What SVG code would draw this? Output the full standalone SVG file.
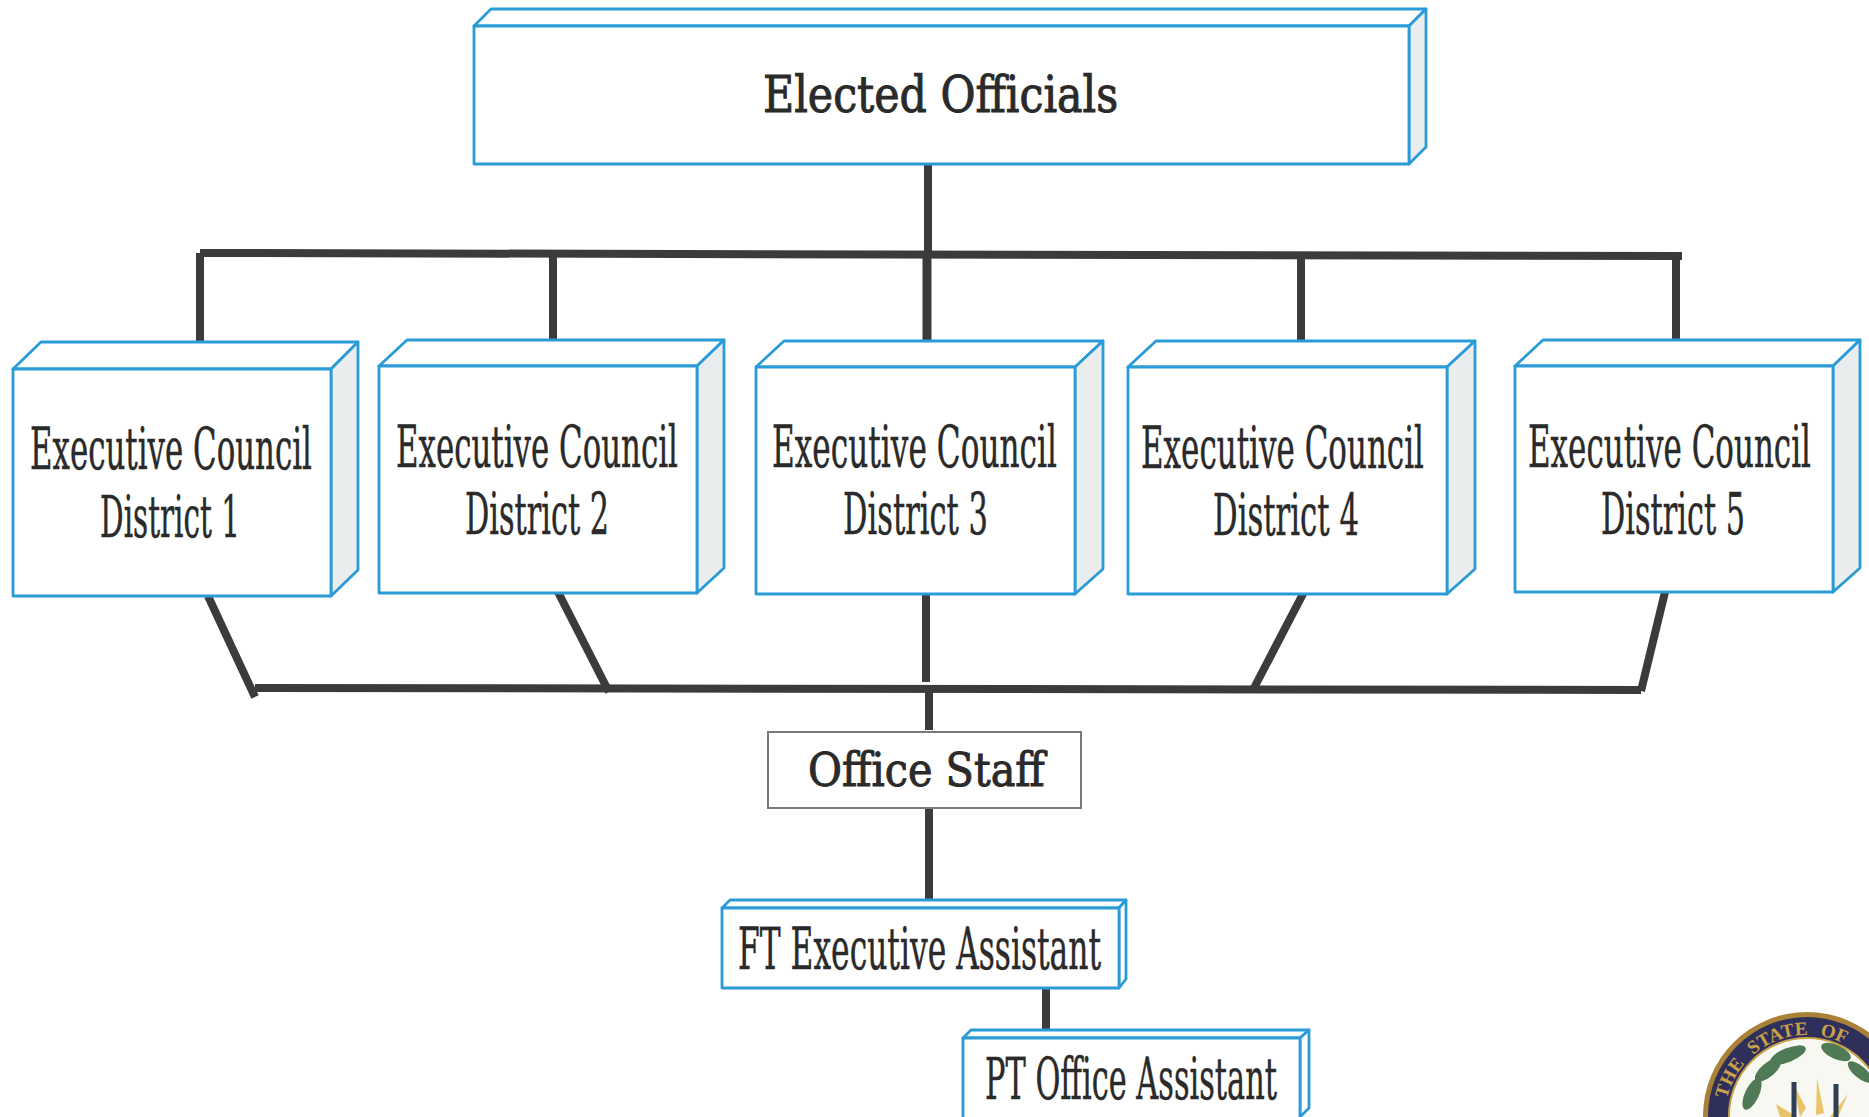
<svg xmlns="http://www.w3.org/2000/svg" width="1869" height="1117" viewBox="0 0 1869 1117">
<style>
.f{fill:#fff;stroke:#2b9bd8;stroke-width:2.8;stroke-linejoin:round}
.s{fill:#e9edee;stroke:#2b9bd8;stroke-width:2.8;stroke-linejoin:round}
.c{stroke:#3b3b3d;stroke-width:8;fill:none;stroke-linecap:butt}
text{font-family:"DejaVu Serif","Liberation Serif",serif;fill:#2a2a2a}
.n{font-size:58px;stroke:#2a2a2a;stroke-width:.5}
.w{font-size:50px;stroke:#2a2a2a;stroke-width:1}
.g{font-family:"Liberation Serif",serif;font-size:19px;font-weight:700;fill:#c9a24a;word-spacing:7px}
.l{fill:#4f7a55}
.y{fill:#e9c46a}
.m{stroke:#2f3f55;stroke-width:5;fill:none}
</style>
<rect width="1869" height="1117" fill="#fff"/>
<g id="connectors">
<path class="c" d="M928 163V253"/>
<path class="c" d="M200 253L1682 256"/>
<path class="c" d="M200 253V342M553 254V340M1301 255V342M1676 256V340"/>
<path class="c" d="M927 254V340" style="stroke-width:9"/>
<path class="c" d="M208 596L255 697"/>
<path class="c" d="M558 592L609 692"/>
<path class="c" d="M926 592V682"/>
<path class="c" d="M1304 592L1254 688"/>
<path class="c" d="M1665 592L1641 691"/>
<path class="c" d="M255 688L1641 690"/>
<path class="c" d="M929 689V730"/>
<path class="c" d="M929 808V900"/>
<path class="c" d="M1046 988V1033"/>
</g>
<g id="elected-officials">
<path class="f" d="M474 26L491 9H1426L1409 26Z"/>
<path class="s" d="M1409 26L1426 9V147L1409 164Z"/>
<rect class="f" x="474" y="26" width="935" height="138"/>
<text class="w" transform="translate(763 112) scale(.8 1)" textLength="444" lengthAdjust="spacingAndGlyphs">Elected Officials</text>
</g>
<g id="district-1">
<path class="f" d="M13 369L41 342H358L331 369Z"/>
<path class="s" d="M331 369L358 342V570L331 596Z"/>
<rect class="f" x="13" y="369" width="318" height="227"/>
<text class="n" transform="translate(30 469) scale(.5 1)" textLength="564" lengthAdjust="spacingAndGlyphs">Executive Council</text>
<text class="n" transform="translate(100 537) scale(.5 1)" textLength="280" lengthAdjust="spacingAndGlyphs">District 1</text>
</g>
<g id="district-2">
<path class="f" d="M379 366L407 340H724L697 366Z"/>
<path class="s" d="M697 366L724 340V568L697 593Z"/>
<rect class="f" x="379" y="366" width="318" height="227"/>
<text class="n" transform="translate(396 467) scale(.5 1)" textLength="564" lengthAdjust="spacingAndGlyphs">Executive Council</text>
<text class="n" transform="translate(465 534) scale(.5 1)" textLength="288" lengthAdjust="spacingAndGlyphs">District 2</text>
</g>
<g id="district-3">
<path class="f" d="M756 367L784 341H1103L1075 367Z"/>
<path class="s" d="M1075 367L1103 341V569L1075 594Z"/>
<rect class="f" x="756" y="367" width="319" height="227"/>
<text class="n" transform="translate(772 467) scale(.5 1)" textLength="570" lengthAdjust="spacingAndGlyphs">Executive Council</text>
<text class="n" transform="translate(843 534) scale(.5 1)" textLength="290" lengthAdjust="spacingAndGlyphs">District 3</text>
</g>
<g id="district-4">
<path class="f" d="M1128 367L1156 341H1475L1447 367Z"/>
<path class="s" d="M1447 367L1475 341V569L1447 594Z"/>
<rect class="f" x="1128" y="367" width="319" height="227"/>
<text class="n" transform="translate(1141 468) scale(.5 1)" textLength="566" lengthAdjust="spacingAndGlyphs">Executive Council</text>
<text class="n" transform="translate(1213 535) scale(.5 1)" textLength="292" lengthAdjust="spacingAndGlyphs">District 4</text>
</g>
<g id="district-5">
<path class="f" d="M1515 366L1543 340H1860L1833 366Z"/>
<path class="s" d="M1833 366L1860 340V568L1833 592Z"/>
<rect class="f" x="1515" y="366" width="318" height="226"/>
<text class="n" transform="translate(1528 467) scale(.5 1)" textLength="566" lengthAdjust="spacingAndGlyphs">Executive Council</text>
<text class="n" transform="translate(1601 534) scale(.5 1)" textLength="288" lengthAdjust="spacingAndGlyphs">District 5</text>
</g>
<g id="office-staff">
<rect x="768" y="732" width="313" height="76" fill="#fff" stroke="#77797c" stroke-width="2"/>
<text class="w" transform="translate(808 786) scale(.8 1)" textLength="296" lengthAdjust="spacingAndGlyphs" style="font-size:47px">Office Staff</text>
</g>
<g id="ft-executive-assistant">
<path class="f" d="M722 908L730 900H1126L1119 908Z"/>
<path class="s" d="M1119 908L1126 900V979L1119 988Z" style="fill:#fff"/>
<rect class="f" x="722" y="908" width="397" height="80"/>
<text class="n" transform="translate(738 969) scale(.5 1)" textLength="726" lengthAdjust="spacingAndGlyphs">FT Executive Assistant</text>
</g>
<g id="pt-office-assistant">
<path class="f" d="M963 1038L971 1030H1309L1300 1038Z"/>
<path class="s" d="M1300 1038L1309 1030V1108L1300 1117Z" style="fill:#fff"/>
<rect class="f" x="963" y="1038" width="337" height="81"/>
<text class="n" transform="translate(985 1099) scale(.5 1)" textLength="584" lengthAdjust="spacingAndGlyphs">PT Office Assistant</text>
</g>
<g id="seal">
<defs><path id="arc" d="M1727 1099A82 82 0 0 1 1889 1116"/></defs>
<circle cx="1807" cy="1116" r="104" fill="#a98238"/>
<circle cx="1807" cy="1116" r="99" fill="#2f2f5c"/>
<circle cx="1807" cy="1116" r="78" fill="#f8f8f2" stroke="#c9a24a" stroke-width="2"/>
<text class="g"><textPath href="#arc">THE STATE OF</textPath></text>
<g class="l">
<ellipse cx="1788" cy="1055" rx="19" ry="7" transform="rotate(-22 1788 1055)"/>
<ellipse cx="1768" cy="1070" rx="16" ry="7" transform="rotate(-40 1768 1070)"/>
<ellipse cx="1752" cy="1094" rx="17" ry="7" transform="rotate(-65 1752 1094)"/>
<ellipse cx="1836" cy="1052" rx="16" ry="7" transform="rotate(25 1836 1052)"/>
<ellipse cx="1860" cy="1072" rx="15" ry="6" transform="rotate(40 1860 1072)"/>
</g>
<g class="y">
<path d="M1800 1117L1793 1083L1806 1108Z"/>
<path d="M1816 1115L1817 1078L1824 1113Z"/>
<path d="M1780 1117L1776 1104L1797 1117Z"/>
<path d="M1830 1117L1848 1094L1838 1117Z"/>
</g>
<path class="m" d="M1794 1117V1082M1836 1117V1084"/>
</g>
</svg>
